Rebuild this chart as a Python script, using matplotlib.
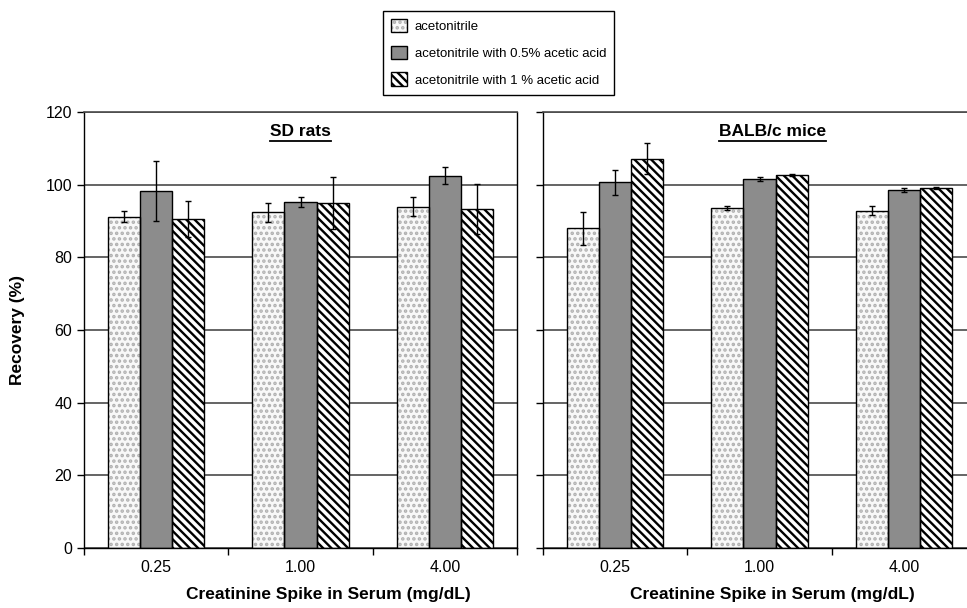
"""
Creatinine recovery in serum: SD rats vs BALB/c mice, three extraction solvents.
"""
import matplotlib
matplotlib.use('Agg')
import matplotlib.pyplot as plt
from matplotlib.lines import Line2D
from matplotlib.patches import Patch
from matplotlib.legend_handler import HandlerTuple

plt.rcParams['font.family'] = ['Liberation Sans', 'DejaVu Sans']
plt.rcParams['hatch.linewidth'] = 1.7

# data
spikes = ['0.25', '1.00', '4.00']
series = ['acetonitrile', 'acetonitrile with 0.5% acetic acid',
          'acetonitrile with 1 % acetic acid']

rats_mean = [[91.2, 92.4, 93.9],
             [98.2, 95.3, 102.5],
             [90.6, 95.0, 93.3]]
rats_err = [[1.6, 2.6, 2.6],
            [8.2, 1.4, 2.4],
            [5.0, 7.2, 6.8]]

mice_mean = [[88.0, 93.6, 92.8],
             [100.6, 101.6, 98.5],
             [107.2, 102.6, 99.0]]
mice_err = [[4.6, 0.5, 1.2],
            [3.5, 0.6, 0.6],
            [4.3, 0.2, 0.3]]

panels = ['SD rats', 'BALB/c mice']

W, H = 967, 608
fig = plt.figure(figsize=(W / 100, H / 100), dpi=100)

ax_l = fig.add_axes([84 / W, 1 - 548 / H, 433 / W, 436 / H])
ax_r = fig.add_axes([543 / W, 1 - 548 / H, 433 / W, 436 / H])

styles = [
    dict(face='#f8f8f8', hatch='...', hcol='#b0b0b0'),
    dict(face='#8c8c8c', hatch=None, hcol='#8c8c8c'),
    dict(face='white', hatch='\\\\\\\\', hcol='black'),
]

width = 0.222
offsets = [-width, 0, width]


def draw_panel(ax, means, errs, title):
    x = range(len(spikes))
    for k, st in enumerate(styles):
        pos = [i + offsets[k] for i in x]
        # fill + hatch layer
        ax.bar(pos, means[k], width, color=st['face'], edgecolor=st['hcol'],
               hatch=st['hatch'], linewidth=0, zorder=2)
        # outline layer
        ax.bar(pos, means[k], width, fill=False, edgecolor='black',
               linewidth=1.0, zorder=3)
        ax.errorbar(pos, means[k], yerr=errs[k], fmt='none', ecolor='black',
                    elinewidth=1.0, capsize=2.5, capthick=1.0, zorder=4)

    ax.set_xlim(-0.5, 2.5)
    ax.set_ylim(0, 120)
    ax.set_yticks(range(0, 121, 20))
    ax.yaxis.grid(True, color='#4a4a4a', linewidth=1.2, zorder=0)
    ax.set_axisbelow(True)

    ax.set_xticks([-0.5, 0.5, 1.5, 2.5])
    ax.set_xticklabels([])
    ax.set_xticks(list(x), minor=True)
    ax.set_xticklabels(spikes, minor=True, fontsize=11.5)
    ax.tick_params(axis='x', which='major', direction='out', length=5, width=1)
    ax.tick_params(axis='x', which='minor', length=0, pad=9)
    ax.tick_params(axis='y', direction='out', length=5, width=1, labelsize=11.5)

    for s in ax.spines.values():
        s.set_color('black')
        s.set_linewidth(1.0)
    ax.spines['top'].set_color('#4a4a4a')
    ax.spines['top'].set_linewidth(1.2)

    t = ax.text(0.5, 0.955, title, transform=ax.transAxes, ha='center',
                va='center', fontsize=12.5, fontweight='bold', zorder=5)
    return t


t_l = draw_panel(ax_l, rats_mean, rats_err, panels[0])
t_r = draw_panel(ax_r, mice_mean, mice_err, panels[1])
t_r.set_x(0.53)
ax_r.set_yticklabels([])
ax_r.spines['right'].set_visible(False)

# underline panel titles
fig.canvas.draw()
for t in (t_l, t_r):
    bb = t.get_window_extent()
    yy = bb.y0 - 2
    fig.add_artist(Line2D([bb.x0 / W, bb.x1 / W], [yy / H, yy / H],
                          color='black', linewidth=1.3))

fig.text(18 / W, 1 - 330 / H, 'Recovery (%)', rotation=90, ha='center',
         va='center', fontsize=12.5, fontweight='bold')
fig.text(328 / W, 1 - 594 / H, 'Creatinine Spike in Serum (mg/dL)',
         ha='center', va='center', fontsize=12.5, fontweight='bold')
fig.text(772 / W, 1 - 594 / H, 'Creatinine Spike in Serum (mg/dL)',
         ha='center', va='center', fontsize=12.5, fontweight='bold')

handles = []
for st in styles:
    fill = Patch(facecolor=st['face'], edgecolor=st['hcol'], hatch=st['hatch'],
                 linewidth=0)
    edge = Patch(fill=False, edgecolor='black', linewidth=1.0)
    handles.append((fill, edge))

leg = fig.legend(handles, series, loc='upper left',
                 bbox_to_anchor=(383 / W, 1 - 11 / H),
                 handler_map={tuple: HandlerTuple(ndivide=1, pad=0)},
                 fontsize=9.5, frameon=True, fancybox=False, framealpha=1,
                 edgecolor='black', handlelength=1.2, handleheight=1.2,
                 handletextpad=0.6, labelspacing=0.95, borderpad=0.6,
                 borderaxespad=0)
leg.get_frame().set_linewidth(1.0)

fig.savefig('out.png', dpi=100)
plt.close(fig)
